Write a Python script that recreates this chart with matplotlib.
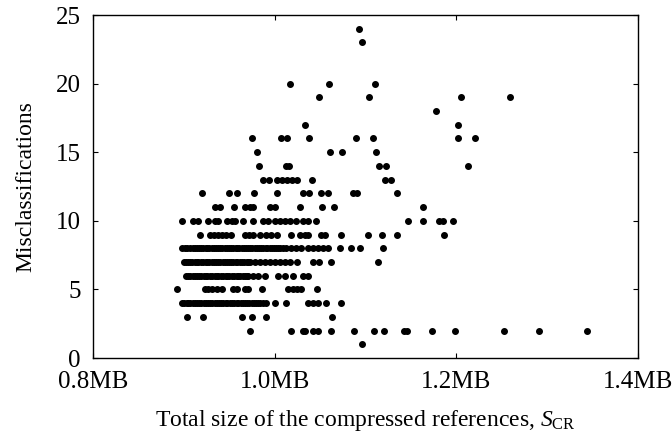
import matplotlib.pyplot as plt

# total size of the compressed references (MB), grouped by number of misclassifications
size_mis_1 = [1.096]
size_mis_2 = [0.973, 1.018, 1.031, 1.033, 1.042, 1.048, 1.062, 1.087, 1.109, 1.120,
              1.142, 1.146, 1.173, 1.198, 1.253, 1.291, 1.344]
size_mis_3 = [0.903, 0.921, 0.964, 0.975, 0.991, 1.063]
size_mis_4 = [0.898, 0.900, 0.903, 0.905, 0.907, 0.910, 0.912, 0.915, 0.917, 0.919,
              0.922, 0.924, 0.927, 0.929, 0.931, 0.934, 0.936, 0.939, 0.941, 0.943,
              0.946, 0.948, 0.951, 0.953, 0.955, 0.958, 0.960, 0.963, 0.965, 0.967,
              0.970, 0.972, 0.975, 0.977, 0.979, 0.982, 0.984, 0.987, 0.991, 1.000,
              1.013, 1.037, 1.042, 1.048, 1.056, 1.073]
size_mis_5 = [0.893, 0.923, 0.927, 0.931, 0.936, 0.942, 0.954, 0.958, 0.967, 0.971,
              0.986, 1.015, 1.020, 1.025, 1.029, 1.047]
size_mis_6 = [0.902, 0.905, 0.907, 0.910, 0.912, 0.914, 0.917, 0.919, 0.922, 0.924,
              0.926, 0.929, 0.931, 0.934, 0.936, 0.938, 0.941, 0.943, 0.946, 0.948,
              0.950, 0.953, 0.955, 0.958, 0.960, 0.962, 0.965, 0.967, 0.969, 0.971,
              0.976, 0.982, 0.989, 1.004, 1.011, 1.020, 1.031, 1.037]
size_mis_7 = [0.900, 0.902, 0.905, 0.907, 0.909, 0.912, 0.914, 0.916, 0.919, 0.921,
              0.924, 0.926, 0.928, 0.931, 0.933, 0.935, 0.938, 0.940, 0.943, 0.945,
              0.947, 0.950, 0.952, 0.954, 0.957, 0.959, 0.962, 0.964, 0.966, 0.969,
              0.971, 0.973, 0.978, 0.984, 0.989, 0.995, 1.000, 1.006, 1.011, 1.017,
              1.025, 1.042, 1.049, 1.062, 1.114]
size_mis_8 = [0.898, 0.901, 0.903, 0.907, 0.910, 0.912, 0.914, 0.917, 0.919, 0.921,
              0.924, 0.926, 0.928, 0.931, 0.933, 0.935, 0.938, 0.940, 0.942, 0.945,
              0.947, 0.950, 0.952, 0.954, 0.957, 0.959, 0.961, 0.964, 0.966, 0.968,
              0.971, 0.973, 0.975, 0.978, 0.980, 0.983, 0.985, 0.987, 0.990, 0.992,
              0.995, 0.997, 0.999, 1.002, 1.004, 1.006, 1.009, 1.012, 1.018, 1.024,
              1.029, 1.037, 1.042, 1.048, 1.053, 1.059, 1.072, 1.084, 1.094, 1.119]
size_mis_9 = [0.918, 0.929, 0.933, 0.938, 0.942, 0.946, 0.952, 0.967, 0.972, 0.976,
              0.984, 0.990, 0.996, 1.003, 1.018, 1.028, 1.033, 1.037, 1.051, 1.055,
              1.073, 1.103, 1.118, 1.135, 1.186]
size_mis_10 = [0.898, 0.910, 0.916, 0.927, 0.934, 0.938, 0.948, 0.953, 0.956, 0.965,
               0.976, 0.987, 0.993, 1.000, 1.006, 1.011, 1.017, 1.024, 1.031, 1.037,
               1.046, 1.147, 1.163, 1.181, 1.185, 1.196]
size_mis_11 = [0.934, 0.940, 0.955, 0.967, 0.973, 0.976, 0.995, 1.000, 1.028, 1.052,
               1.065, 1.163]
size_mis_12 = [0.920, 0.950, 0.959, 0.977, 1.003, 1.031, 1.038, 1.051, 1.059, 1.086,
               1.091, 1.135]
size_mis_13 = [0.987, 0.994, 1.003, 1.008, 1.014, 1.019, 1.025, 1.041, 1.121, 1.128]
size_mis_14 = [0.983, 1.012, 1.016, 1.115, 1.123, 1.213]
size_mis_15 = [0.980, 1.061, 1.074, 1.112]
size_mis_16 = [0.975, 1.007, 1.014, 1.038, 1.090, 1.108, 1.202, 1.221]
size_mis_17 = [1.033, 1.202]
size_mis_18 = [1.178]
size_mis_19 = [1.049, 1.104, 1.205, 1.259]
size_mis_20 = [1.017, 1.060, 1.110]
size_mis_23 = [1.096]
size_mis_24 = [1.093]

groups = [
    (1, size_mis_1), (2, size_mis_2), (3, size_mis_3), (4, size_mis_4),
    (5, size_mis_5), (6, size_mis_6), (7, size_mis_7), (8, size_mis_8),
    (9, size_mis_9), (10, size_mis_10), (11, size_mis_11), (12, size_mis_12),
    (13, size_mis_13), (14, size_mis_14), (15, size_mis_15), (16, size_mis_16),
    (17, size_mis_17), (18, size_mis_18), (19, size_mis_19), (20, size_mis_20),
    (23, size_mis_23), (24, size_mis_24),
]

x_ticks = [0.8, 1.0, 1.2, 1.4]
x_tick_labels = ["0.8MB", "1.0MB", "1.2MB", "1.4MB"]
y_ticks = [0, 5, 10, 15, 20, 25]

plt.rcParams["font.family"] = ["Liberation Serif", "DejaVu Serif"]
plt.rcParams["mathtext.fontset"] = "custom"
plt.rcParams["mathtext.rm"] = "Liberation Serif"
plt.rcParams["mathtext.it"] = "Liberation Serif:italic"

xs: list[float] = []
ys: list[int] = []
for count, sizes in groups:
    xs.extend(sizes)
    ys.extend([count] * len(sizes))

fig = plt.figure(figsize=(6.72, 4.34), dpi=100)
ax = fig.add_axes([0.1384, 0.1751, 0.8110, 0.7903])
ax.plot(xs, ys, linestyle="none", marker="o", markersize=4.0, color="black")

ax.set_xlim(0.8, 1.4)
ax.set_ylim(0, 25)
ax.set_xticks(x_ticks)
ax.set_xticklabels(x_tick_labels)
ax.set_yticks(y_ticks)
ax.tick_params(direction="in", top=True, right=True, length=3.6, width=0.8,
               labelsize=18, pad=9)
for spine in ax.spines.values():
    spine.set_linewidth(1.0)

ax.set_xlabel(r"Total size of the compressed references, $S_{\mathrm{CR}}$",
              fontsize=17, labelpad=11)
ax.set_ylabel("Misclassifications", fontsize=17, labelpad=14)

fig.savefig("out.png", dpi=100)
plt.close(fig)
